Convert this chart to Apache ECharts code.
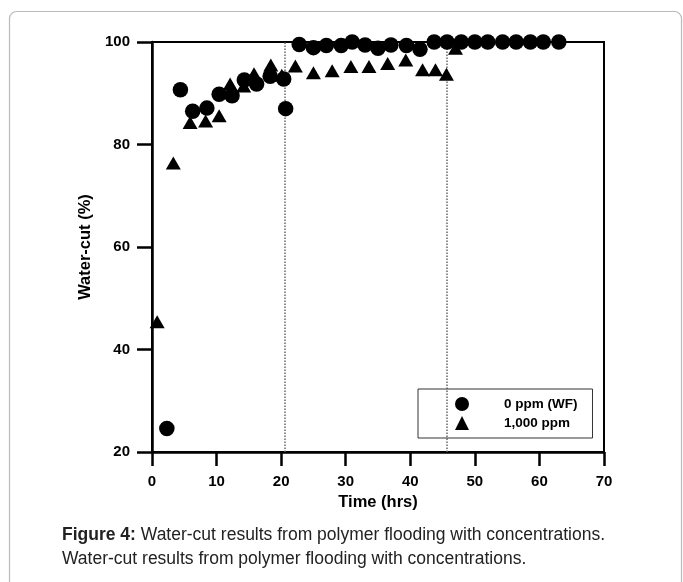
<!DOCTYPE html>
<html><head><meta charset="utf-8">
<script src="https://cdn.jsdelivr.net/npm/echarts@6/dist/echarts.min.js"></script>
<style>html,body{margin:0;padding:0;background:#fff}#c{width:683px;height:582px}</style>
</head><body><div id="c"></div>
<script>
const xTicks = [0, 70, 10];
const yTicks = [20, 100, 20];
const wfName = '0 ppm (WF)';
const polyName = '1,000 ppm';
const wfX = [2.3, 4.4, 6.3, 8.5, 10.4, 12.4, 14.3, 16.2, 18.3, 20.4, 20.7, 22.8, 25, 27, 29.3, 31, 33, 35, 37, 39.4, 41.5, 43.7, 45.7, 47.9, 50, 52, 54.3, 56.4, 58.6, 60.6, 63];
const wfY = [24.6, 90.7, 86.5, 87.1, 89.8, 89.5, 92.6, 91.8, 93.3, 92.8, 87, 99.5, 98.9, 99.3, 99.3, 100, 99.4, 98.8, 99.4, 99.3, 98.6, 100, 100, 100, 100, 100, 100, 100, 100, 100, 100];
const polyX = [0.8, 3.3, 5.9, 8.3, 10.4, 12.1, 14.2, 15.8, 18.4, 20.1, 22.2, 25, 27.9, 30.8, 33.6, 36.5, 39.3, 41.9, 43.9, 45.6, 47];
const polyY = [45.4, 76.4, 84.3, 84.6, 85.6, 91.8, 91.4, 93.8, 95.5, 93.5, 95.3, 94, 94.4, 95.2, 95.2, 95.8, 96.5, 94.6, 94.6, 93.7, 98.8];
const markX = [20.6, 45.7];
const captionBold = 'Figure 4:';
const captionLine1 = ' Water-cut results from polymer flooding with concentrations.';
const captionLine2 = 'Water-cut results from polymer flooding with concentrations.';
const xName = 'Time (hrs)';
const yName = 'Water-cut (%)';

const F = '"Liberation Sans", Arial, sans-serif';
const chart = echarts.init(document.getElementById('c'), null, {renderer: 'canvas'});
const zip = (a, b) => a.map((v, i) => [v, b[i]]);
chart.setOption({
  animation: false,
  backgroundColor: '#fff',
  graphic: [
    {type: 'rect', shape: {x: 9.5, y: 11.5, width: 672, height: 620, r: 7}, style: {fill: 'none', stroke: '#bbb', lineWidth: 1.2}, silent: true},
    {type: 'text', left: 62, top: 526, style: {
      text: '{b|' + captionBold + '}{n|' + captionLine1 + '}\n{n|' + captionLine2 + '}',
      rich: {
        b: {fontFamily: F, fontSize: 17.5, fontWeight: 'bold', fill: '#222', lineHeight: 24},
        n: {fontFamily: F, fontSize: 17.5, fill: '#222', lineHeight: 24}
      }
    }}
  ],
  grid: {left: 152, right: 79, top: 42, bottom: 130, show: true, borderColor: '#000', borderWidth: 2, backgroundColor: 'transparent'},
  legend: {
    left: 418, top: 389, orient: 'vertical',
    borderColor: '#333', borderWidth: 1, padding: [8, 15, 8, 37],
    itemGap: 5, itemWidth: 14, itemHeight: 14,
    textStyle: {fontFamily: F, fontSize: 13.5, fontWeight: 'bold', color: '#000', padding: [0, 0, 0, 30]},
    itemStyle: {opacity: 1},
    data: [{name: wfName, icon: 'circle'}, {name: polyName, icon: 'triangle'}]
  },
  xAxis: {
    type: 'value', min: xTicks[0], max: xTicks[1], interval: xTicks[2],
    name: xName, nameLocation: 'middle', nameGap: 42,
    nameTextStyle: {fontFamily: F, fontSize: 16.5, fontWeight: 'bold', color: '#000'},
    axisLine: {show: true, lineStyle: {color: '#000', width: 2.5}},
    axisTick: {show: true, inside: false, length: 14, lineStyle: {color: '#000', width: 2.5}},
    axisLabel: {margin: 22, fontFamily: F, fontSize: 15, fontWeight: 'bold', color: '#000'},
    splitLine: {show: false}
  },
  yAxis: {
    type: 'value', min: yTicks[0], max: yTicks[1], interval: yTicks[2],
    name: yName, nameLocation: 'middle', nameGap: 58,
    nameTextStyle: {fontFamily: F, fontSize: 16.5, fontWeight: 'bold', color: '#000'},
    axisLine: {show: true, lineStyle: {color: '#000', width: 2.5}},
    axisTick: {show: true, inside: false, length: 15, lineStyle: {color: '#000', width: 2.5}},
    axisLabel: {margin: 22, fontFamily: F, fontSize: 15, fontWeight: 'bold', color: '#000'},
    splitLine: {show: false}
  },
  series: [
    {
      name: polyName, type: 'scatter', symbol: 'triangle', symbolSize: [15, 13],
      itemStyle: {color: '#000', opacity: 1}, data: zip(polyX, polyY), z: 3,
      markLine: {
        silent: true, symbol: 'none', label: {show: false}, z: 1,
        lineStyle: {color: '#666', type: [1.5, 1.5], width: 1.5},
        data: markX.map(v => ({xAxis: v}))
      }
    },
    {
      name: wfName, type: 'scatter', symbol: 'circle', symbolSize: 15.5,
      itemStyle: {color: '#000', opacity: 1}, data: zip(wfX, wfY), z: 4
    }
  ]
});
</script></body></html>
